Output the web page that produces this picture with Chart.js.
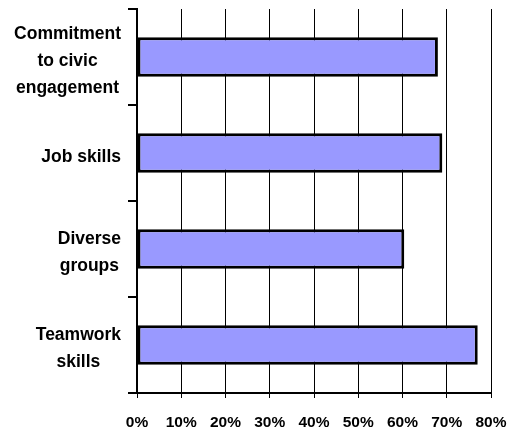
<!DOCTYPE html>
<html>
<head>
<meta charset="utf-8">
<script src="https://cdn.jsdelivr.net/npm/chart.js@4/dist/chart.umd.min.js"></script>
<style>
  html, body { margin: 0; padding: 0; background: #ffffff; }
  #wrap { width: 508px; height: 430px; }
</style>
</head>
<body>
<div id="wrap"><canvas id="chart" width="508" height="430"></canvas></div>
<script>
// Categories, top to bottom, split into the lines they are printed on
const categories = [
  ['Commitment', 'to civic', 'engagement'],
  ['Job skills'],
  ['Diverse', 'groups'],
  ['Teamwork', 'skills']
];
// Share of respondents (%)
const shares = [68, 69, 60.4, 77];
// Percentage axis
const axisMin = 0;
const axisMax = 80;
const axisStep = 10;

const FONT = '"Liberation Sans", Arial, Helvetica, sans-serif';

// Category labels: block right-aligned against the axis, lines centred in the block
const categoryLabels = {
  id: 'categoryLabels',
  afterDraw(chart) {
    const y = chart.scales.y;
    const ctx = chart.ctx;
    const lineH = 27;
    const rightEdge = 121;
    ctx.save();
    ctx.font = 'bold 17.5px ' + FONT;
    ctx.fillStyle = '#000000';
    ctx.textAlign = 'center';
    ctx.textBaseline = 'middle';
    categories.forEach((lines, i) => {
      const cy = y.getPixelForValue(i) + 4;
      const w = Math.max(...lines.map(l => ctx.measureText(l).width));
      const cx = rightEdge - w / 2;
      const top = cy - (lines.length - 1) * lineH / 2;
      lines.forEach((l, j) => ctx.fillText(l, cx, top + j * lineH));
    });
    ctx.restore();
  }
};

new Chart(document.getElementById('chart'), {
  type: 'bar',
  data: {
    labels: categories,
    datasets: [{
      data: shares,
      backgroundColor: '#9999ff',
      borderColor: '#000000',
      borderWidth: 3,
      borderSkipped: false,
      categoryPercentage: 1,
      barPercentage: 0.41
    }]
  },
  options: {
    indexAxis: 'y',
    responsive: false,
    animation: false,
    events: [],
    layout: { padding: { top: 9, right: 17, left: 0, bottom: 0 } },
    plugins: { legend: { display: false }, tooltip: { enabled: false } },
    scales: {
      x: {
        min: axisMin,
        max: axisMax,
        border: { display: true, color: '#000000', width: 2 },
        grid: { color: '#000000', lineWidth: 1, drawTicks: true, tickLength: 5 },
        ticks: {
          stepSize: axisStep,
          padding: 15,
          color: '#000000',
          font: { family: FONT, size: 15.5, weight: 'bold' },
          callback: v => v + '%'
        },
        afterFit: s => { s.height = 37; s.paddingLeft = 0; s.paddingRight = 0; }
      },
      y: {
        border: { display: true, color: '#000000', width: 2 },
        grid: { drawOnChartArea: false, drawTicks: true, tickLength: 9, color: '#000000', lineWidth: 2 },
        ticks: { display: false },
        afterFit: s => { s.width = 137; s.paddingTop = 0; s.paddingBottom = 0; }
      }
    }
  },
  plugins: [categoryLabels]
});
</script>
</body>
</html>
